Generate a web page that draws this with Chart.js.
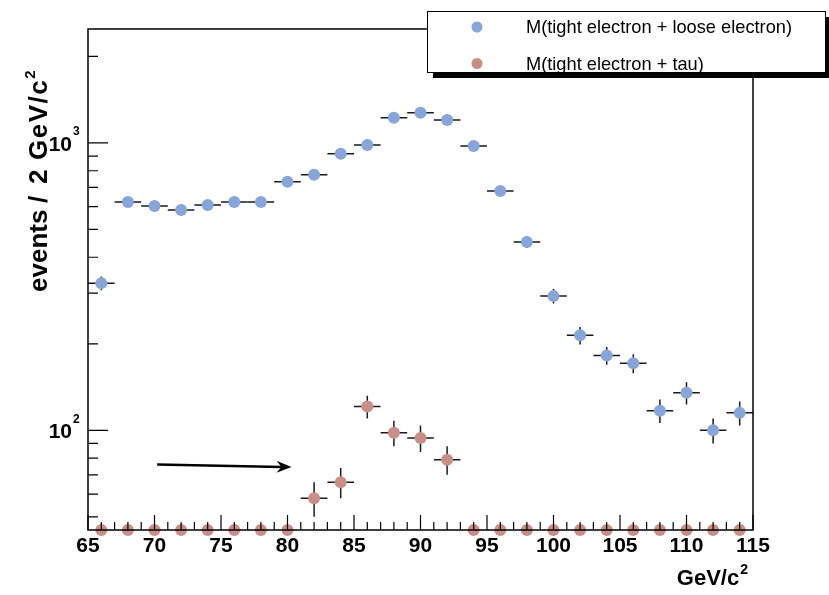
<!DOCTYPE html>
<html>
<head>
<meta charset="utf-8">
<script src="https://cdn.jsdelivr.net/npm/chart.js@4.4.0/dist/chart.umd.min.js"></script>
<style>
  body { margin: 0; background: #fff; }
</style>
</head>
<body>
<canvas id="massChart" width="829" height="595"></canvas>
<script>
// bin centres (GeV/c^2), 2 GeV bins
var binCenters = [66, 68, 70, 72, 74, 76, 78, 80, 82, 84, 86, 88, 90, 92, 94, 96, 98, 100, 102, 104, 106, 108, 110, 112, 114];

// M(tight electron + loose electron)
var looseValues = [325, 623, 603, 584, 608, 623, 623, 732, 774, 916, 984, 1222, 1272, 1202, 976, 680, 452, 293, 214, 182, 171, 117, 135, 100, 115];
var looseErrors = [18, 25, 25, 24, 25, 25, 25, 27, 28, 30, 31, 35, 36, 35, 31, 26, 21, 17, 15, 13, 13, 11, 12, 10, 11];

// M(tight electron + tau)
var tauValues = [0, 0, 0, 0, 0, 0, 0, 0, 58, 66, 121, 98, 94, 79, 0, 0, 0, 0, 0, 0, 0, 0, 0, 0, 0];
var tauErrors = [0, 0, 0, 0, 0, 0, 0, 0, 8, 8, 11, 10, 10, 9, 0, 0, 0, 0, 0, 0, 0, 0, 0, 0, 0];

var seriesLabels = ['M(tight electron + loose electron)', 'M(tight electron + tau)'];
var seriesColors = ['#86a5d8', '#c98f86'];

var xRange = [65, 115];
var yRange = [45, 2490];
var yTickLabels = [100, 1000];
var binHalfWidth = 1;

// the arrow pointing at the tau peak
var arrowFrom = [70.2, 76];
var arrowTo = [80.3, 74.5];

function toPoints(values, errors) {
    // empty bins sit on the floor of the log axis, like ROOT draws them
    return binCenters.map(function (x, i) {
        return { x: x, y: values[i] > 0 ? values[i] : yRange[0], err: errors[i], empty: values[i] <= 0 };
    });
}

var boldFont = '"Liberation Sans", Arial, sans-serif';

var rootStyle = {
    id: 'rootStyle',
    beforeDatasetsDraw: function (chart) {
        var ctx = chart.ctx;
        var xs = chart.scales.x;
        var ys = chart.scales.y;
        ctx.save();
        ctx.strokeStyle = '#1a1a1a';
        ctx.lineWidth = 1.5;
        chart.data.datasets.forEach(function (ds) {
            ds.data.forEach(function (p) {
                if (p.empty) return;
                var px = xs.getPixelForValue(p.x);
                var py = ys.getPixelForValue(p.y);
                ctx.beginPath();
                ctx.moveTo(xs.getPixelForValue(p.x - binHalfWidth), py);
                ctx.lineTo(xs.getPixelForValue(p.x + binHalfWidth), py);
                ctx.moveTo(px, ys.getPixelForValue(p.y - p.err));
                ctx.lineTo(px, ys.getPixelForValue(p.y + p.err));
                ctx.stroke();
            });
        });
        ctx.restore();
    },
    afterDraw: function (chart) {
        var ctx = chart.ctx;
        var a = chart.chartArea;
        var xs = chart.scales.x;
        var ys = chart.scales.y;
        ctx.save();

        // frame
        ctx.strokeStyle = '#000';
        ctx.lineWidth = 1.5;
        ctx.strokeRect(a.left, a.top, a.right - a.left, a.bottom - a.top);

        // x ticks, pointing inwards
        ctx.lineWidth = 1.2;
        ctx.beginPath();
        for (var v = xRange[0]; v <= xRange[1]; v++) {
            var px = xs.getPixelForValue(v);
            var len = (v % 5 === 0) ? 15 : 8;
            ctx.moveTo(px, a.bottom);
            ctx.lineTo(px, a.bottom - len);
        }
        // y ticks on the log axis
        for (var dec = 10; dec <= 1000; dec *= 10) {
            for (var m = 1; m <= 9; m++) {
                var val = m * dec;
                if (val < yRange[0] || val > yRange[1]) continue;
                var py = ys.getPixelForValue(val);
                ctx.moveTo(a.left, py);
                ctx.lineTo(a.left + (m === 1 ? 20 : 10), py);
            }
        }
        ctx.stroke();

        // y tick labels 10^n
        ctx.fillStyle = '#000';
        ctx.textBaseline = 'middle';
        yTickLabels.forEach(function (val) {
            var py = ys.getPixelForValue(val);
            var exp = String(Math.round(Math.log10(val)));
            ctx.font = 'bold 21px ' + boldFont;
            ctx.textAlign = 'right';
            ctx.fillText('10', 72, py + 2);
            ctx.font = 'bold 12px ' + boldFont;
            ctx.textAlign = 'left';
            ctx.fillText(exp, 73, py - 11);
        });

        // y axis title, pieces placed along the rotated axis
        ctx.save();
        ctx.translate(40, 0);
        ctx.rotate(-Math.PI / 2);
        ctx.textAlign = 'left';
        ctx.textBaseline = 'middle';
        ctx.font = 'bold 26px ' + boldFont;
        ctx.fillText('events', -292, 0);
        ctx.fillText('/', -203, 0);
        ctx.fillText('2', -184, 0);
        ctx.letterSpacing = '1.5px';
        ctx.fillText('GeV/c', -160, 0);
        var gw = ctx.measureText('GeV/c').width;
        ctx.letterSpacing = '0px';
        ctx.font = 'bold 15px ' + boldFont;
        ctx.fillText('2', -160 + gw, -9);
        ctx.restore();

        // x axis title
        ctx.textAlign = 'right';
        ctx.textBaseline = 'middle';
        ctx.font = 'bold 14px ' + boldFont;
        ctx.fillText('2', 748, 570);
        var sw = ctx.measureText('2').width + 1;
        ctx.font = 'bold 22px ' + boldFont;
        ctx.fillText('GeV/c', 748 - sw, 579);

        // arrow
        var x1 = xs.getPixelForValue(arrowFrom[0]), y1 = ys.getPixelForValue(arrowFrom[1]);
        var x2 = xs.getPixelForValue(arrowTo[0]), y2 = ys.getPixelForValue(arrowTo[1]);
        var ang = Math.atan2(y2 - y1, x2 - x1);
        ctx.strokeStyle = '#000';
        ctx.lineWidth = 2.5;
        ctx.beginPath();
        ctx.moveTo(x1, y1);
        ctx.lineTo(x2 - 10 * Math.cos(ang), y2 - 10 * Math.sin(ang));
        ctx.stroke();
        ctx.beginPath();
        ctx.moveTo(x2, y2);
        ctx.lineTo(x2 - 15 * Math.cos(ang) + 6 * Math.sin(ang), y2 - 15 * Math.sin(ang) - 6 * Math.cos(ang));
        ctx.lineTo(x2 - 10 * Math.cos(ang), y2 - 10 * Math.sin(ang));
        ctx.lineTo(x2 - 15 * Math.cos(ang) - 6 * Math.sin(ang), y2 - 15 * Math.sin(ang) + 6 * Math.cos(ang));
        ctx.closePath();
        ctx.fillStyle = '#000';
        ctx.fill();

        // legend box with shadow
        var lx = 427, ly = 11, lw = 398, lh = 61, sh = 6;
        ctx.fillStyle = '#000';
        ctx.fillRect(lx + sh, ly + sh, lw, lh);
        ctx.fillStyle = '#fff';
        ctx.fillRect(lx, ly, lw, lh);
        ctx.strokeStyle = '#000';
        ctx.lineWidth = 1;
        ctx.strokeRect(lx + 0.5, ly + 0.5, lw, lh);
        ctx.font = '19px "Liberation Sans", Arial, sans-serif';
        var squeeze = 266 / ctx.measureText(seriesLabels[0]).width;
        chart.data.datasets.forEach(function (ds, i) {
            var cy = ly + 16 + i * 36.5;
            ctx.fillStyle = ds.backgroundColor;
            ctx.beginPath();
            ctx.arc(lx + 50, cy, 5.5, 0, Math.PI * 2);
            ctx.fill();
            ctx.fillStyle = '#000';
            ctx.textAlign = 'left';
            ctx.textBaseline = 'middle';
            ctx.save();
            ctx.translate(lx + 99, cy + 1);
            ctx.scale(squeeze, 1);
            ctx.fillText(ds.label, 0, 0);
            ctx.restore();
        });

        ctx.restore();
    }
};

new Chart(document.getElementById('massChart'), {
    type: 'scatter',
    data: {
        datasets: [
            {
                label: seriesLabels[0],
                data: toPoints(looseValues, looseErrors),
                backgroundColor: seriesColors[0],
                borderWidth: 0,
                pointRadius: 6,
                pointHoverRadius: 6,
                clip: false
            },
            {
                label: seriesLabels[1],
                data: toPoints(tauValues, tauErrors),
                backgroundColor: seriesColors[1],
                borderWidth: 0,
                pointRadius: 6,
                pointHoverRadius: 6,
                clip: false
            }
        ]
    },
    options: {
        responsive: false,
        animation: false,
        events: [],
        layout: { padding: { top: 29, right: 76, left: 0, bottom: 0 } },
        plugins: {
            legend: { display: false },
            tooltip: { enabled: false }
        },
        scales: {
            x: {
                type: 'linear',
                min: xRange[0],
                max: xRange[1],
                grid: { display: false, drawTicks: false },
                border: { display: false },
                ticks: {
                    stepSize: 5,
                    padding: 4,
                    color: '#000',
                    maxRotation: 0,
                    font: { family: boldFont, size: 21, weight: 'bold' }
                },
                afterFit: function (scale) { scale.height = 65; }
            },
            y: {
                type: 'logarithmic',
                min: yRange[0],
                max: yRange[1],
                grid: { display: false, drawTicks: false },
                border: { display: false },
                ticks: { display: false },
                afterFit: function (scale) { scale.width = 88; }
            }
        }
    },
    plugins: [rootStyle]
});
</script>
</body>
</html>
